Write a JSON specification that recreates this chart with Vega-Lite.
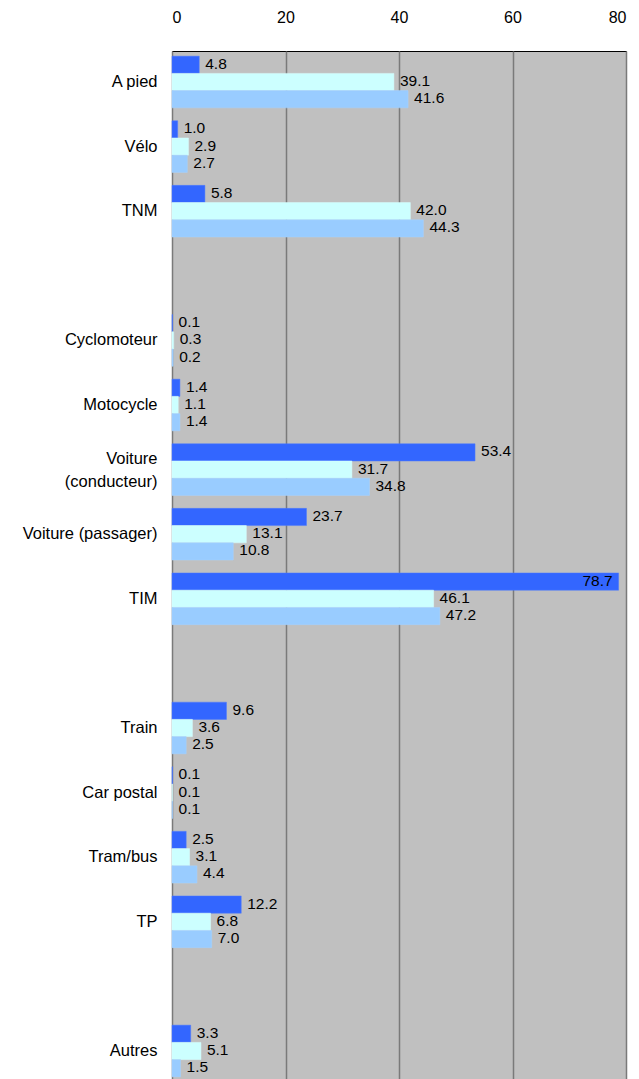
{
  "$schema": "https://vega.github.io/schema/vega-lite/v6.json",
  "width": 454,
  "height": 1031,
  "autosize": {"type": "none"},
  "padding": {"left": 172, "top": 51, "right": 13, "bottom": 0},
  "background": "white",
  "config": {
    "view": {"stroke": "#000000", "strokeWidth": 1, "fill": "#C0C0C0"},
    "font": "Liberation Sans",
    "axis": {"labelFont": "Liberation Sans", "labelColor": "#000000"}
  },
  "data": {
    "values": [
      {"cat": "A pied", "serie": "1", "val": 4.8},
      {"cat": "A pied", "serie": "2", "val": 39.1},
      {"cat": "A pied", "serie": "3", "val": 41.6},
      {"cat": "Vélo", "serie": "1", "val": 1.0},
      {"cat": "Vélo", "serie": "2", "val": 2.9},
      {"cat": "Vélo", "serie": "3", "val": 2.7},
      {"cat": "TNM", "serie": "1", "val": 5.8},
      {"cat": "TNM", "serie": "2", "val": 42.0},
      {"cat": "TNM", "serie": "3", "val": 44.3},
      {"cat": "Cyclomoteur", "serie": "1", "val": 0.1},
      {"cat": "Cyclomoteur", "serie": "2", "val": 0.3},
      {"cat": "Cyclomoteur", "serie": "3", "val": 0.2},
      {"cat": "Motocycle", "serie": "1", "val": 1.4},
      {"cat": "Motocycle", "serie": "2", "val": 1.1},
      {"cat": "Motocycle", "serie": "3", "val": 1.4},
      {"cat": "Voiture (conducteur)", "serie": "1", "val": 53.4},
      {"cat": "Voiture (conducteur)", "serie": "2", "val": 31.7},
      {"cat": "Voiture (conducteur)", "serie": "3", "val": 34.8},
      {"cat": "Voiture (passager)", "serie": "1", "val": 23.7},
      {"cat": "Voiture (passager)", "serie": "2", "val": 13.1},
      {"cat": "Voiture (passager)", "serie": "3", "val": 10.8},
      {"cat": "TIM", "serie": "1", "val": 78.7},
      {"cat": "TIM", "serie": "2", "val": 46.1},
      {"cat": "TIM", "serie": "3", "val": 47.2},
      {"cat": "Train", "serie": "1", "val": 9.6},
      {"cat": "Train", "serie": "2", "val": 3.6},
      {"cat": "Train", "serie": "3", "val": 2.5},
      {"cat": "Car postal", "serie": "1", "val": 0.1},
      {"cat": "Car postal", "serie": "2", "val": 0.1},
      {"cat": "Car postal", "serie": "3", "val": 0.1},
      {"cat": "Tram/bus", "serie": "1", "val": 2.5},
      {"cat": "Tram/bus", "serie": "2", "val": 3.1},
      {"cat": "Tram/bus", "serie": "3", "val": 4.4},
      {"cat": "TP", "serie": "1", "val": 12.2},
      {"cat": "TP", "serie": "2", "val": 6.8},
      {"cat": "TP", "serie": "3", "val": 7.0},
      {"cat": "Autres", "serie": "1", "val": 3.3},
      {"cat": "Autres", "serie": "2", "val": 5.1},
      {"cat": "Autres", "serie": "3", "val": 1.5}
    ]
  },
  "encoding": {
    "y": {
      "field": "cat",
      "type": "nominal",
      "scale": {
        "domain": ["A pied", "Vélo", "TNM", "gap1", "Cyclomoteur", "Motocycle", "Voiture (conducteur)", "Voiture (passager)", "TIM", "gap2", "Train", "Car postal", "Tram/bus", "TP", "gap3", "Autres"],
        "paddingInner": 0.2,
        "paddingOuter": 0.08
      },
      "axis": {
        "title": null,
        "ticks": false,
        "domain": false,
        "labelPadding": 15,
        "labelFontSize": 16.5,
        "labelLineHeight": 23,
        "labelLimit": 200,
        "labelOffset": {"condition": {"test": "datum.value == 'Voiture (conducteur)'", "value": -11}, "value": 0},
        "labelExpr": "indexof(datum.label, 'gap') == 0 ? '' : (datum.label == 'Voiture (conducteur)' ? ['Voiture\u2003\u2003\u2002', '(conducteur)'] : datum.label)"
      }
    },
    "yOffset": {"field": "serie", "type": "nominal", "scale": {"paddingInner": 0, "paddingOuter": 0}},
    "x": {
      "field": "val",
      "type": "quantitative",
      "scale": {"domain": [0, 80], "nice": false},
      "axis": {
        "orient": "top",
        "title": null,
        "values": [0, 20, 40, 60, 80],
        "ticks": false,
        "domain": false,
        "labelPadding": 26,
        "labelFontSize": 16,
        "grid": true,
        "gridColor": "#7a7a7a",
        "gridWidth": 1.5
      }
    }
  },
  "layer": [
    {
      "mark": {"type": "bar", "strokeWidth": 0.5},
      "encoding": {
        "color": {
          "field": "serie",
          "type": "nominal",
          "scale": {"domain": ["1", "2", "3"], "range": ["#3366FF", "#CCFFFF", "#99CCFF"]},
          "legend": null
        },
        "stroke": {
          "field": "serie",
          "type": "nominal",
          "scale": {"domain": ["1", "2", "3"], "range": ["#4d7aff", "#d9ffff", "#a6d2ff"]},
          "legend": null
        }
      }
    },
    {
      "transform": [{"filter": "datum.val < 70"}],
      "mark": {"type": "text", "align": "left", "baseline": "middle", "dx": 6, "dy": -1, "fontSize": 15.5, "font": "Liberation Sans", "color": "#000000"},
      "encoding": {"text": {"field": "val", "type": "quantitative", "format": ".1f"}}
    },
    {
      "transform": [{"filter": "datum.val >= 70"}],
      "mark": {"type": "text", "align": "right", "baseline": "middle", "dx": -6, "dy": -1, "fontSize": 15.5, "font": "Liberation Sans", "color": "#000000"},
      "encoding": {"text": {"field": "val", "type": "quantitative", "format": ".1f"}}
    }
  ]
}
